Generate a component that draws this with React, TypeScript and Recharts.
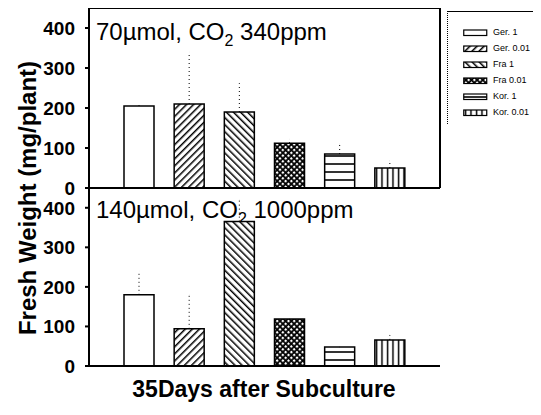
import React from "react";
import { BarChart, Bar, XAxis, YAxis, Cell, ErrorBar } from "recharts";

const categories = ["Ger. 1", "Ger. 0.01", "Fra 1", "Fra 0.01", "Kor. 1", "Kor. 0.01"];
const topValues = [205, 210, 190, 112, 85, 50];
const topErrors = [2, 130, 72, 10, 25, 18];
const bottomValues = [180, 94, 365, 119, 48, 66];
const bottomErrors = [60, 86, 55, 0, 0, 12];
const yTicks = [0, 100, 200, 300, 400];
const yMax = 450;
const patternIds = ["pNone", "pFwd", "pBack", "pCross", "pHoriz", "pVert"];

const topData = categories.map((name, i) => ({ name, value: topValues[i], err: [0, topErrors[i]] }));
const bottomData = categories.map((name, i) => ({ name, value: bottomValues[i], err: [0, bottomErrors[i]] }));

const FONT = "Arial, 'Liberation Sans', sans-serif";
const W = 541;
const Y_AXIS_W = 89;
const TOP_H = 199;
const BOTTOM_TOP = 188;
const BOTTOM_H = 227;
const topMargin = { top: 8, right: 101, bottom: 10, left: 0 };
const bottomMargin = { top: 0, right: 101, bottom: 48, left: 0 };
const X_AXIS_H = 1;

function Patterns({ prefix }: { prefix: string }) {
  return (
    <defs>
      <pattern id={prefix + "pNone"} width="4" height="4" patternUnits="userSpaceOnUse">
        <rect width="4" height="4" fill="#fff" />
      </pattern>
      <pattern id={prefix + "pFwd"} width="5" height="5" patternUnits="userSpaceOnUse" patternTransform="rotate(45)">
        <rect width="5" height="5" fill="#fff" />
        <line x1="0" y1="0" x2="0" y2="5" stroke="#000" strokeWidth="3" />
      </pattern>
      <pattern id={prefix + "pBack"} width="5" height="5" patternUnits="userSpaceOnUse" patternTransform="rotate(-45)">
        <rect width="5" height="5" fill="#fff" />
        <line x1="0" y1="0" x2="0" y2="5" stroke="#000" strokeWidth="3" />
      </pattern>
      <pattern id={prefix + "pCross"} width="4" height="4" patternUnits="userSpaceOnUse" patternTransform="rotate(45)">
        <rect width="4" height="4" fill="#000" />
        <rect x="1" y="1" width="2.2" height="2.2" fill="#fff" />
      </pattern>
      <pattern id={prefix + "pHoriz"} width="8" height="8" patternUnits="userSpaceOnUse">
        <rect width="8" height="8" fill="#fff" />
        <line x1="0" y1="4" x2="8" y2="4" stroke="#000" strokeWidth="1.6" />
      </pattern>
      <pattern id={prefix + "pVert"} width="5.5" height="5.5" patternUnits="userSpaceOnUse">
        <rect width="5.5" height="5.5" fill="#fff" />
        <line x1="2.5" y1="0" x2="2.5" y2="5.5" stroke="#000" strokeWidth="1.5" />
      </pattern>
    </defs>
  );
}

const tickStyle = { fontFamily: FONT, fontSize: 19, fontWeight: 700, fill: "#000" };

export default function App() {
  const topPlotTop = topMargin.top;
  const topPlotBottom = TOP_H - topMargin.bottom - X_AXIS_H;
  const plotRight = W - topMargin.right;
  const botPlotTop = BOTTOM_TOP + bottomMargin.top;
  const botPlotBottom = BOTTOM_TOP + BOTTOM_H - bottomMargin.bottom - X_AXIS_H;
  return (
    <div style={{ position: "relative", margin: -8, width: W, height: 415, background: "#fff" }}>
      <svg width={W} height={415} style={{ position: "absolute", left: 0, top: 0 }}>
        <text x={96} y={40} fontFamily={FONT} fontSize={24} fill="#000">
          70µmol, CO<tspan fontSize={16} dy={6}>2</tspan>
          <tspan dy={-6}>{"  340ppm"}</tspan>
        </text>
        <text x={96} y={218} fontFamily={FONT} fontSize={24} fill="#000">
          140µmol, CO<tspan fontSize={16} dy={6}>2</tspan>
          <tspan dy={-6}>{" 1000ppm"}</tspan>
        </text>
        <text x={36} y={198} transform="rotate(-90 36 198)" textAnchor="middle" fontFamily={FONT} fontSize={24} fontWeight={700} fill="#000">
          Fresh Weight (mg/plant)
        </text>
        <text x={264} y={397} textAnchor="middle" fontFamily={FONT} fontSize={23} fontWeight={700} fill="#000">
          35Days after Subculture
        </text>
      </svg>
      <div
        style={{
          position: "absolute",
          left: 447,
          top: 11,
          width: 88,
          height: 112,
          borderTop: "1px solid #000",
          borderLeft: "1px dotted #000",
          fontFamily: FONT,
          fontSize: 9,
        }}
      >
        {categories.map((c, i) => (
          <div key={c} style={{ position: "absolute", left: 15, top: 16 + i * 16, display: "flex", alignItems: "center" }}>
            <svg width={25} height={8} style={{ display: "block" }}>
              <Patterns prefix={"l" + i} />
              <rect x={0.75} y={1} width={23} height={5.5} fill={`url(#l${i}${patternIds[i]})`} stroke="#000" strokeWidth={1.2} />
            </svg>
            <span style={{ marginLeft: 5, lineHeight: "9px" }}>{c}</span>
          </div>
        ))}
      </div>
      <div style={{ position: "absolute", left: 0, top: 0 }}>
        <BarChart width={W} height={TOP_H} data={topData} margin={topMargin} barSize={30}>
          <Patterns prefix="t" />
          <XAxis dataKey="name" height={X_AXIS_H} stroke="#000" strokeWidth={2} tick={false} tickLine={false} padding={{ left: 25, right: 25 }} />
          <YAxis domain={[0, yMax]} ticks={yTicks} width={Y_AXIS_W} stroke="#000" strokeWidth={2} tick={tickStyle} tickSize={4} tickMargin={10} interval={0} />
          <Bar dataKey="value" stroke="#000" strokeWidth={1.5} isAnimationActive={false}>
            {topData.map((d, i) => (
              <Cell key={d.name} fill={`url(#t${patternIds[i]})`} />
            ))}
            <ErrorBar dataKey="err" direction="y" width={0} stroke="#000" strokeWidth={1} strokeDasharray="1 3" isAnimationActive={false} />
          </Bar>
        </BarChart>
      </div>
      <div style={{ position: "absolute", left: 0, top: BOTTOM_TOP }}>
        <BarChart width={W} height={BOTTOM_H} data={bottomData} margin={bottomMargin} barSize={30}>
          <Patterns prefix="b" />
          <XAxis dataKey="name" height={X_AXIS_H} stroke="#000" strokeWidth={2} tick={false} tickLine={false} padding={{ left: 25, right: 25 }} />
          <YAxis domain={[0, yMax]} ticks={yTicks} width={Y_AXIS_W} stroke="#000" strokeWidth={2} tick={tickStyle} tickSize={4} tickMargin={10} interval={0} />
          <Bar dataKey="value" stroke="#000" strokeWidth={1.5} isAnimationActive={false}>
            {bottomData.map((d, i) => (
              <Cell key={d.name} fill={`url(#b${patternIds[i]})`} />
            ))}
            <ErrorBar dataKey="err" direction="y" width={0} stroke="#000" strokeWidth={1} strokeDasharray="1 3" isAnimationActive={false} />
          </Bar>
        </BarChart>
      </div>
      <svg width={W} height={415} style={{ position: "absolute", left: 0, top: 0, pointerEvents: "none" }}>
        <g stroke="#000" strokeWidth={2} fill="none">
          <polyline points={`${Y_AXIS_W},${topPlotBottom} ${Y_AXIS_W},${topPlotTop} ${plotRight},${topPlotTop} ${plotRight},${topPlotBottom}`} />
          <line x1={Y_AXIS_W} y1={botPlotTop} x2={Y_AXIS_W} y2={botPlotBottom} />
        </g>
      </svg>
    </div>
  );
}
